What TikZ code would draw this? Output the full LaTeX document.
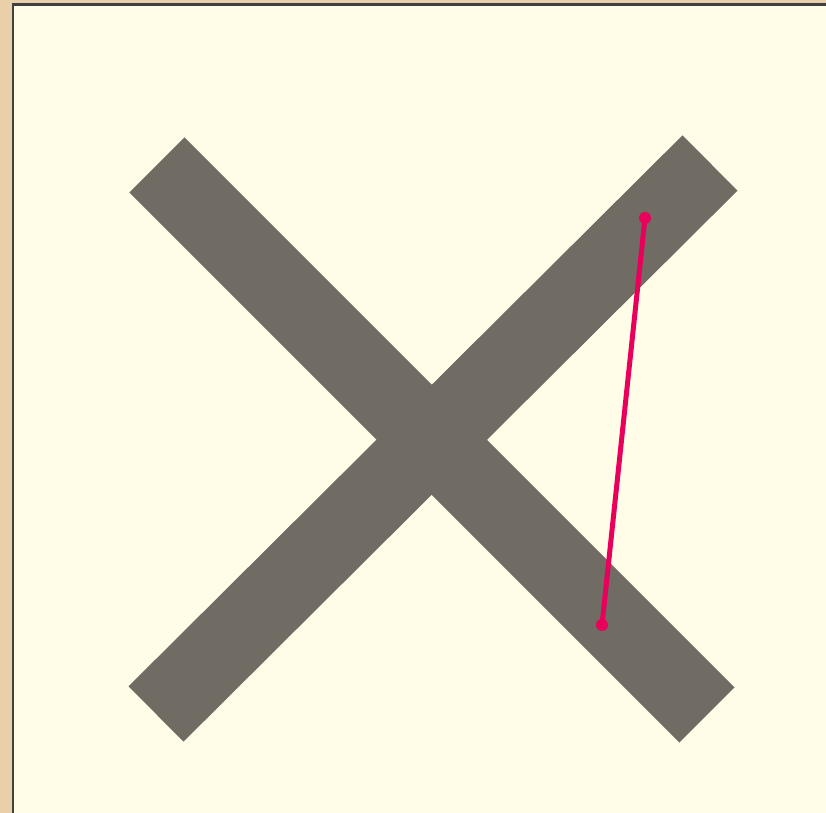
\documentclass[tikz,border=0pt]{standalone}
\usepackage{tikz}
\usetikzlibrary{positioning,calc}
\definecolor{tanback}{RGB}{233,208,170}
\definecolor{cream}{RGB}{255,253,232}
\definecolor{bargray}{RGB}{112,107,99}
\definecolor{crimsonline}{RGB}{232,0,90}
\tikzset{
    bar/.style={
        draw=bargray,
        line width=1.56cm,
        line cap=butt
    },
    enddot/.style={
        circle,
        fill=crimsonline,
        inner sep=0pt,
        minimum size=0.24cm
    },
    measure/.style={
        draw=crimsonline,
        line width=0.1cm
    }
}

\begin{document}
\begin{tikzpicture}[x=0.02cm, y=-0.02cm]
\useasboundingbox (0,0) rectangle (826,813);
% background and panel
\fill[tanback] (0,0) rectangle (826,813);
\fill[cream] (13,5) rectangle (826,813);
\draw[black!75, line width=0.06cm] (13,813) -- (13,5) -- (826,5);

% the cross
\coordinate (nw) at (157,165);
\coordinate (se) at (707,715);
\coordinate (ne) at (710,163);
\coordinate (sw) at (156,714);
\draw[bar] (nw) -- (se);
\draw[bar] (ne) -- (sw);

% red segment
\node[enddot] (top) at (645,218) {};
\node[enddot] (bottom) at (602,625) {};
\draw[measure] (top.center) -- (bottom.center);
\end{tikzpicture}
\end{document}
